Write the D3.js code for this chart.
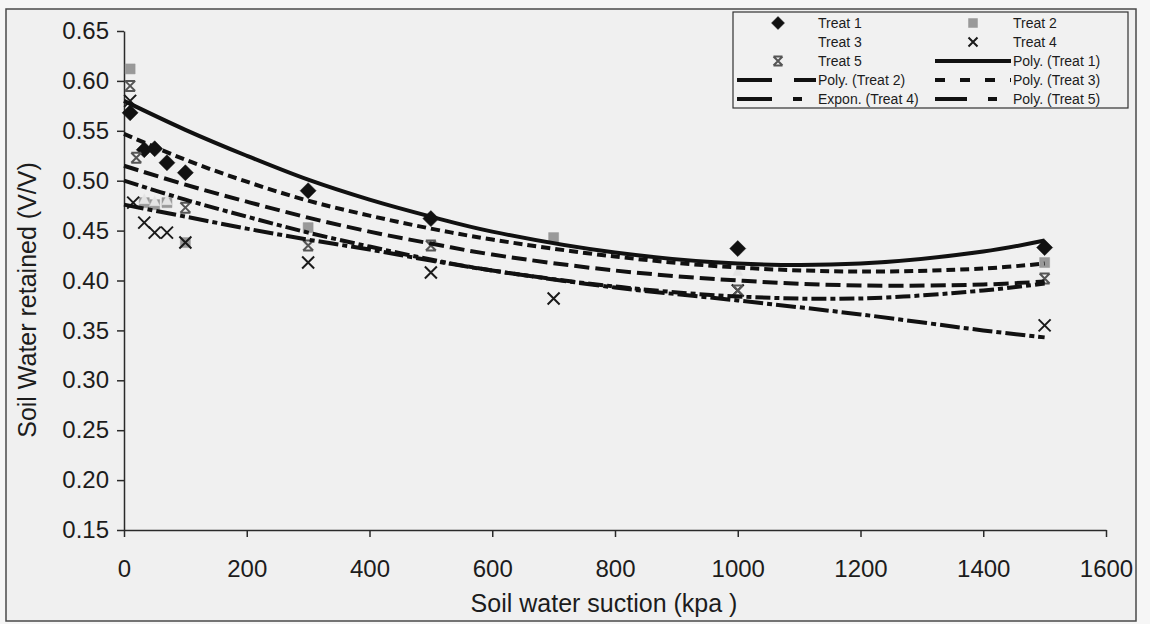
<!DOCTYPE html>
<html>
<head>
<meta charset="utf-8">
<script src="https://cdn.jsdelivr.net/npm/d3@7"></script>
<style>
    html, body { margin: 0; padding: 0; background: #f6f6f6; }
    #chart { width: 1150px; height: 624px; }
    text { font-family: Arial, "Liberation Sans", sans-serif; fill: #1c1c1c; }
</style>
</head>
<body>
<div id="chart"></div>
<script>
// axis ticks
const suctionTicks = [0, 200, 400, 600, 800, 1000, 1200, 1400, 1600];
const retainedTicks = [0.15, 0.20, 0.25, 0.30, 0.35, 0.40, 0.45, 0.50, 0.55, 0.60, 0.65];

// measured points [suction kPa, water retained V/V]
const treat1 = [[10, 0.568], [33, 0.531], [50, 0.532], [70, 0.518], [100, 0.508],
    [300, 0.490], [500, 0.462], [1000, 0.432], [1500, 0.433]];
const treat2 = [[10, 0.612], [33, 0.478], [50, 0.476], [70, 0.478], [100, 0.438],
    [300, 0.453], [700, 0.443], [1500, 0.418]];
const treat3 = [[33, 0.482], [50, 0.480], [70, 0.481], [300, 0.440], [1000, 0.410]];
const treat4 = [[10, 0.580], [15, 0.478], [33, 0.458], [50, 0.448], [70, 0.448], [100, 0.438],
    [300, 0.418], [500, 0.408], [700, 0.382], [1000, 0.390], [1500, 0.355]];
const treat5 = [[10, 0.595], [20, 0.523], [100, 0.473], [300, 0.435], [500, 0.435],
    [1000, 0.390], [1500, 0.402]];

// trendlines
const polyTreat1 = [[0, 0.580], [100, 0.551], [200, 0.525], [300, 0.501], [400, 0.481], [500, 0.464],
    [600, 0.449], [800, 0.428], [1000, 0.417], [1200, 0.417], [1400, 0.429], [1500, 0.440]];
const polyTreat2 = [[0, 0.515], [100, 0.496], [200, 0.479], [300, 0.463], [400, 0.449], [500, 0.437],
    [600, 0.426], [800, 0.410], [1000, 0.400], [1200, 0.395], [1400, 0.396], [1500, 0.399]];
const polyTreat3 = [[0, 0.547], [100, 0.521], [200, 0.499], [300, 0.480], [400, 0.465], [500, 0.452],
    [600, 0.441], [800, 0.424], [1000, 0.413], [1200, 0.409], [1400, 0.412], [1500, 0.417]];
const exponTreat4 = [[0, 0.476], [100, 0.464], [200, 0.452], [300, 0.441], [400, 0.431], [500, 0.420],
    [600, 0.410], [800, 0.393], [1000, 0.380], [1200, 0.366], [1400, 0.350], [1500, 0.343]];
const polyTreat5 = [[0, 0.500], [100, 0.481], [200, 0.464], [300, 0.448], [400, 0.434], [500, 0.421],
    [600, 0.410], [800, 0.394], [1000, 0.384], [1200, 0.382], [1400, 0.390], [1500, 0.397]];

const pointSeries = [
    { name: 'Treat 1', data: treat1, marker: 'diamond', size: 8, color: '#111' },
    { name: 'Treat 2', data: treat2, marker: 'square', size: 5, color: '#999' },
    { name: 'Treat 3', data: treat3, marker: 'none', size: 5, color: '#e4e4e4' },
    { name: 'Treat 4', data: treat4, marker: 'cross', size: 6, color: '#1a1a1a' },
    { name: 'Treat 5', data: treat5, marker: 'hourglass', size: 5, color: '#555' }
];

const trendSeries = [
    { name: 'Poly. (Treat 1)', data: polyTreat1, dash: null, legendDash: null },
    { name: 'Poly. (Treat 2)', data: polyTreat2, dash: '15,6', legendDash: '35,22' },
    { name: 'Poly. (Treat 3)', data: polyTreat3, dash: '9,5', legendDash: '10,15' },
    { name: 'Expon. (Treat 4)', data: exponTreat4, dash: '20,4,5,4', legendDash: '35,21,9,40' },
    { name: 'Poly. (Treat 5)', data: polyTreat5, dash: '15,4,5,4', legendDash: '32,21,9,40' }
];

class SoilWaterChart {
    constructor(element, config) {
        this.element = element;
        this.config = config;

        this.svg = d3.select(this.element).append('svg')
            .attr('width', config.width)
            .attr('height', config.height);

        this.x = d3.scaleLinear().domain([0, 1600]).range([124, 1106]);
        this.y = d3.scaleLinear().domain([0.15, 0.65]).range([530, 31]);

        this._draw();
    }

    _markerPath(kind, s) {
        if (kind === 'diamond') return `M0,${-s}L${s},0L0,${s}L${-s},0Z`;
        if (kind === 'square') return `M${-s},${-s}H${s}V${s}H${-s}Z`;
        if (kind === 'cross') return `M${-s},${-s}L${s},${s}M${s},${-s}L${-s},${s}`;
        if (kind === 'hourglass') {
            return `M${-s},${-s}H${s}M${-s},${s}H${s}M${-s},${-s}L${s},${s}M${s},${-s}L${-s},${s}`;
        }
        return `M${-s},${s}L0,${-s}L${s},${s}Z`;
    }

    _marker(g, d) {
        const filled = d.marker === 'diamond' || d.marker === 'square' || d.marker === 'none';
        g.append('path')
            .attr('d', this._markerPath(d.marker, d.size))
            .attr('fill', filled ? d.color : 'none')
            .attr('stroke', d.color)
            .attr('stroke-width', filled ? 0.5 : 2);
    }

    _draw() {
        const svg = this.svg;
        const x = this.x;
        const y = this.y;

        // scanned frame around the figure
        svg.append('rect')
            .attr('x', 6).attr('y', 9)
            .attr('width', 1130).attr('height', 612)
            .attr('fill', '#f0f0f0')
            .attr('stroke', '#4a4a4a')
            .attr('stroke-width', 1.5);

        // axes
        const xAxis = svg.append('g')
            .attr('transform', `translate(0,${y(0.15)})`)
            .call(d3.axisBottom(x).tickValues(suctionTicks).tickFormat(d3.format('d'))
                .tickSize(7).tickSizeOuter(0).tickPadding(23));
        const yAxis = svg.append('g')
            .attr('transform', `translate(${x(0)},0)`)
            .call(d3.axisLeft(y).tickValues(retainedTicks).tickFormat(d3.format('.2f'))
                .tickSize(7).tickSizeOuter(0).tickPadding(8));

        [xAxis, yAxis].forEach((a) => {
            a.attr('font-family', null).attr('font-size', null);
            a.selectAll('path, line').attr('stroke', '#2a2a2a').attr('stroke-width', 1.5);
            a.selectAll('text').style('font-size', '24px').attr('fill', '#1c1c1c');
        });

        svg.append('text')
            .attr('x', 604).attr('y', 612)
            .attr('text-anchor', 'middle')
            .style('font-size', '25px')
            .text('Soil water suction (kpa )');

        svg.append('text')
            .attr('transform', 'translate(36,300) rotate(-90)')
            .attr('text-anchor', 'middle')
            .style('font-size', '25px')
            .text('Soil Water retained (V/V)');

        // points
        pointSeries.forEach((s) => {
            svg.append('g').attr('class', 'points')
                .selectAll('g')
                .data(s.data)
                .enter()
                .append('g')
                .attr('transform', (d) => `translate(${x(d[0])},${y(d[1])})`)
                .each((d, i, nodes) => this._marker(d3.select(nodes[i]), s));
        });

        // trendlines on top of the points
        const line = d3.line()
            .x((d) => x(d[0]))
            .y((d) => y(d[1]))
            .curve(d3.curveCatmullRom.alpha(0.5));

        trendSeries.forEach((s) => {
            svg.append('path')
                .datum(s.data)
                .attr('d', line)
                .attr('fill', 'none')
                .attr('stroke', '#111')
                .attr('stroke-width', 4)
                .attr('stroke-dasharray', s.dash);
        });

        this._drawLegend();
    }

    _drawLegend() {
        const legend = this.svg.append('g').attr('class', 'legend');

        legend.append('rect')
            .attr('x', 733).attr('y', 12)
            .attr('width', 395).attr('height', 96)
            .attr('fill', '#f1f1f1')
            .attr('stroke', '#333')
            .attr('stroke-width', 1.2);

        const cols = [
            { marker: 778, text: 818, lineFrom: 737 },
            { marker: 973, text: 1013, lineFrom: 935 }
        ];
        const items = pointSeries.map((d) => ({ type: 'point', d: d }))
            .concat(trendSeries.map((d) => ({ type: 'line', d: d })));

        items.forEach((item, i) => {
            const col = cols[i % 2];
            const cy = 23 + Math.floor(i / 2) * 19;
            const g = legend.append('g');

            if (item.type === 'point') {
                if (item.d.marker !== 'none') {
                    const m = g.append('g').attr('transform', `translate(${col.marker},${cy})`);
                    this._marker(m, Object.assign({}, item.d, { size: item.d.marker === 'diamond' ? 6.5 : 4.5 }));
                }
            } else {
                const lineTo = item.d.legendDash && item.d.legendDash.split(',').length > 2
                    ? col.text - 16 : col.text - 2;
                g.append('line')
                    .attr('x1', col.lineFrom).attr('x2', lineTo)
                    .attr('y1', cy).attr('y2', cy)
                    .attr('stroke', '#111')
                    .attr('stroke-width', 4)
                    .attr('stroke-dasharray', item.d.legendDash);
            }

            g.append('text')
                .attr('x', col.text)
                .attr('y', cy + 5)
                .style('font-size', '14px')
                .text(item.d.name);
        });
    }
}

new SoilWaterChart(document.getElementById('chart'), { width: 1150, height: 624 });
</script>
</body>
</html>
